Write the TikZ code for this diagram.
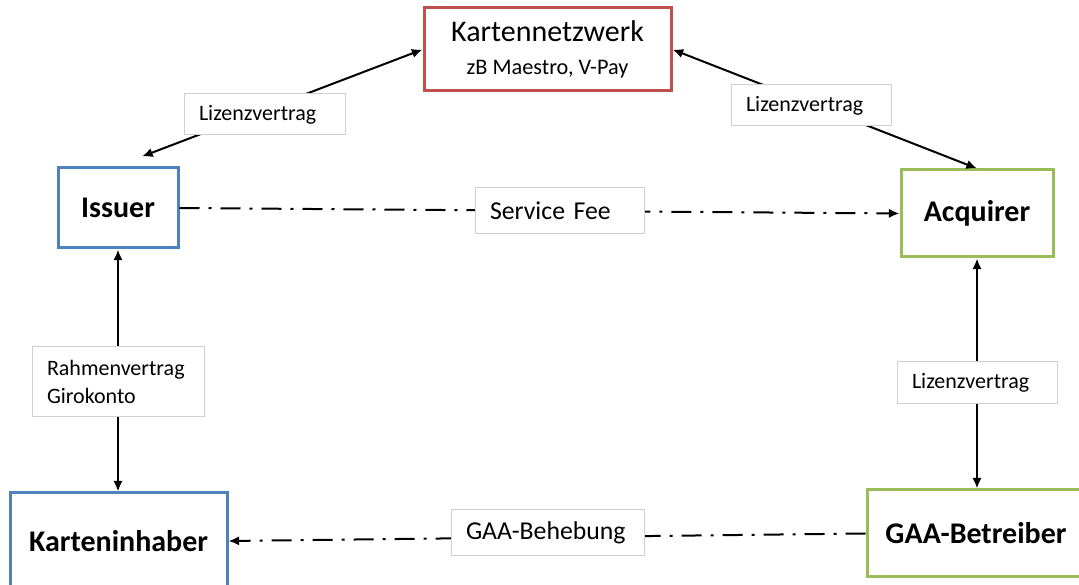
\documentclass[tikz,border=0pt]{standalone}
\usepackage{fontspec}
\setmainfont{Carlito}
\usetikzlibrary{arrows.meta}
\definecolor{netred}{HTML}{C0504D}
\definecolor{bankblue}{HTML}{4F81BD}
\definecolor{acqgreen}{HTML}{9BBB59}
\definecolor{lblgray}{HTML}{D0D0D0}
\newdimen\px \px=0.75pt
\tikzset{
  box/.style={line width=3\px, fill=white, align=center, inner sep=2pt, font=\fontsize{22.5}{27}\selectfont\bfseries},
  netbox/.style={box, draw=netred, font=\fontsize{22.5}{27}\selectfont},
  bankbox/.style={box, draw=bankblue},
  acqbox/.style={box, draw=acqgreen},
  lbl/.style={draw=lblgray, line width=1\px, fill=white, align=left, inner xsep=15\px, inner ysep=0pt, font=\fontsize{16.5}{21}\selectfont},
  biglbl/.style={lbl, font=\fontsize{19.3}{23}\selectfont},
  arr2/.style={{Latex[length=8pt,width=7pt]}-{Latex[length=8pt,width=7pt]}, line width=2\px, color=black},
  flow/.style={-{Latex[length=8pt,width=7pt]}, line width=2\px, color=black, dash pattern=on 15pt off 6.75pt on 2.25pt off 6.75pt},
}
\begin{document}
\begin{tikzpicture}[x=0.75pt, y=0.75pt]
    \useasboundingbox (0,0) rectangle (1079,585);
    \clip (0,0) rectangle (1079,585);
    \node[netbox, minimum width=247\px, minimum height=83\px] (knw) at (547.5,535.5) {Kartennetzwerk\\[-2pt]{\fontsize{16.7}{19}\selectfont zB Maestro, V-Pay}};
    \node[bankbox, minimum width=120\px, minimum height=80\px] (iss) at (118,377) {Issuer};
    \node[acqbox, minimum width=152\px, minimum height=87\px] (acq) at (977,371.5) {Acquirer};
    \node[bankbox, minimum width=217\px, minimum height=96\px] (kih) at (118.5,44) {Karteninhaber};
    \node[acqbox, minimum width=218\px, minimum height=87\px] (gaa) at (976,51.5) {GAA-Betreiber};
    \draw[arr2] ([shift={(24,10)}]iss.north) -- (knw.west);
    \draw[arr2] (knw.east) -- (acq.north);
    \draw[arr2] (iss.south) -- (iss.south |- kih.north);
    \draw[arr2] (acq.south) -- (acq.south |- gaa.north);
    \draw[flow] (iss.east) -- (acq.west);
    \draw[flow] (gaa.west) -- (kih.east);
    \node[lbl, text width=131\px, minimum height=41\px] (lzleft) at (264.5,470.5) {Lizenzvertrag};
    \node[lbl, text width=130\px, minimum height=41\px] (lzright) at (811,479.5) {Lizenzvertrag};
    \node[biglbl, text width=139\px, minimum height=46\px] (fee) at (559.5,374) {Service Fee};
    \node[lbl, text width=142\px, minimum height=70\px] (rahmen) at (118,203) {Rahmenvertrag\\Girokonto};
    \node[lbl, text width=130\px, minimum height=42\px] (lzacq) at (977,202) {Lizenzvertrag};
    \node[biglbl, text width=163\px, minimum height=46\px] (behebung) at (547.5,52) {GAA-Behebung};
  \end{tikzpicture}
\end{document}
